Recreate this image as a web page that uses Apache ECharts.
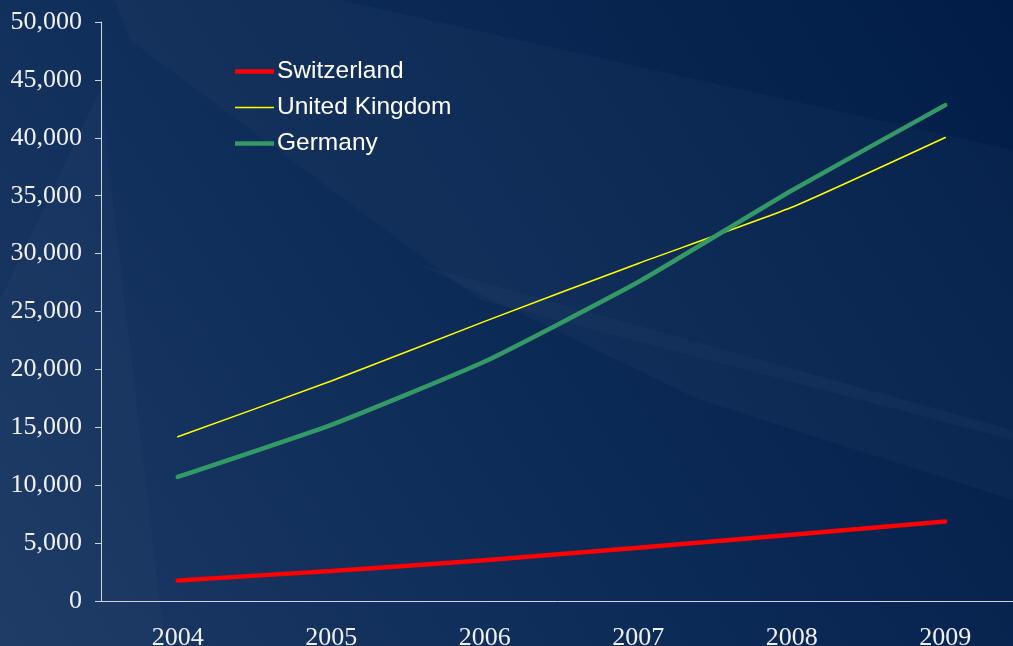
<!DOCTYPE html>
<html>
<head>
<meta charset="utf-8">
<script src="https://cdn.jsdelivr.net/npm/echarts@6/dist/echarts.min.js"></script>
<style>
  html, body { margin: 0; padding: 0; background: #0c2a55; overflow: hidden; }
  #chart { width: 1013px; height: 646px; }
</style>
</head>
<body>
<div id="chart"></div>
<script>
// Years on the category axis
const years = ['2004', '2005', '2006', '2007', '2008', '2009'];

// Series values per year
const switzerland = [1770, 2600, 3520, 4600, 5720, 6870];
const unitedKingdom = [14180, 19000, 24150, 29150, 34000, 40030];
const germany = [10710, 15210, 20680, 27550, 35450, 42820];

// Value axis range
const yMin = 0;
const yMax = 50000;
const yStep = 5000;

const chart = echarts.init(document.getElementById('chart'));

const axisColor = '#cfd4dc';
const textColor = '#eef0f4';

// Legend key: a bar of the given thickness centred in a 39x14 box
function keyIcon(thickness) {
  const top = (14 - thickness) / 2;
  return 'path://M0,0 L0.01,0 Z M0,14 L0.01,14 Z M0,' + top +
    ' H39 V' + (top + thickness) + ' H0 Z';
}

chart.setOption({
  backgroundColor: {
    type: 'linear', x: 1, y: 0, x2: 0, y2: 1,
    colorStops: [
      { offset: 0, color: '#011d47' },
      { offset: 0.5, color: '#0c2a56' },
      { offset: 1, color: '#1b3964' }
    ]
  },
  animation: false,
  graphic: [
    {
      type: 'polygon', z: -10, silent: true,
      shape: { points: [[340, 0], [1013, 150], [1013, 440], [480, 300], [130, 40], [115, 0]] },
      style: { fill: 'rgba(255,255,255,0.022)' }
    },
    {
      type: 'polygon', z: -10, silent: true,
      shape: { points: [[420, 265], [1013, 430], [1013, 500], [700, 400]] },
      style: { fill: 'rgba(255,255,255,0.025)' }
    },
    {
      type: 'polygon', z: -10, silent: true,
      shape: { points: [[0, 300], [100, 90], [165, 646], [0, 646]] },
      style: { fill: 'rgba(255,255,255,0.02)' }
    }
  ],
  grid: {
    left: 101, width: 921, top: 22, bottom: 45,
    containLabel: false,
    outerBoundsMode: 'none'
  },
  legend: {
    orient: 'vertical',
    left: 230,
    top: 54,
    itemWidth: 39,
    itemHeight: 14,
    itemGap: 11,
    itemStyle: { borderWidth: 0 },
    textStyle: {
      color: '#ffffff',
      fontFamily: 'Liberation Sans, Arial, sans-serif',
      fontSize: 24.5,
      lineHeight: 24,
      padding: [0, 0, 0, -2]
    },
    data: [
      { name: 'Switzerland', icon: keyIcon(4.5) },
      { name: 'United Kingdom', icon: keyIcon(1.5) },
      { name: 'Germany', icon: keyIcon(4.5) }
    ]
  },
  xAxis: {
    type: 'category',
    data: years,
    boundaryGap: true,
    axisLine: { lineStyle: { color: axisColor, width: 1 } },
    axisTick: { length: 7, lineStyle: { color: axisColor } },
    axisLabel: {
      color: textColor,
      fontFamily: 'Liberation Serif, Times New Roman, serif',
      fontSize: 26,
      margin: 24
    },
    splitLine: { show: false }
  },
  yAxis: {
    type: 'value',
    min: yMin,
    max: yMax,
    interval: yStep,
    axisLine: { show: true, lineStyle: { color: axisColor, width: 1 } },
    axisTick: { show: true, length: 6, lineStyle: { color: axisColor } },
    axisLabel: {
      color: textColor,
      fontFamily: 'Liberation Serif, Times New Roman, serif',
      fontSize: 26,
      margin: 19,
      formatter: v => v.toLocaleString('en-US')
    },
    splitLine: { show: false }
  },
  series: [
    {
      name: 'Switzerland', type: 'line', data: switzerland,
      symbol: 'none', smooth: 0.15,
      color: '#ff0000',
      lineStyle: { color: '#ff0000', width: 4.5, cap: 'round' }
    },
    {
      name: 'United Kingdom', type: 'line', data: unitedKingdom,
      symbol: 'none', smooth: 0.15,
      color: '#ffff00',
      lineStyle: { color: '#ffff00', width: 1.5, cap: 'round' }
    },
    {
      name: 'Germany', type: 'line', data: germany,
      symbol: 'none', smooth: 0.15,
      color: '#339966',
      lineStyle: { color: '#339966', width: 4.5, cap: 'round' }
    }
  ]
});
</script>
</body>
</html>
